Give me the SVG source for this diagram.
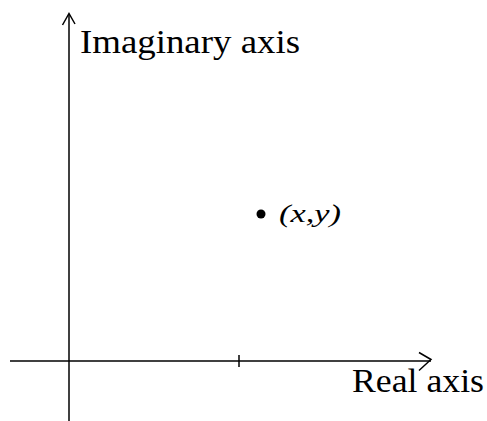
<svg xmlns="http://www.w3.org/2000/svg" width="487" height="421" viewBox="0 0 487 421">
<style>
.ax{stroke:#000;stroke-width:1.5;fill:none}
text{fill:#000}
</style>
<rect width="487" height="421" fill="#fff"/>
<g id="connectors">
<line class="ax" x1="69" y1="14" x2="69" y2="421"/>
<polyline class="ax" points="62.5,25 69,13.5 75,24"/>
<line class="ax" x1="10" y1="361" x2="431" y2="361"/>
<polyline class="ax" points="419,352.5 431,359.5 419,370.5"/>
<line class="ax" x1="239" y1="355" x2="239" y2="367"/>
</g>
<g id="imag-label"><text font-family="Liberation Serif, Times New Roman, serif" x="80" y="53" font-size="34" textLength="220" lengthAdjust="spacingAndGlyphs">Imaginary axis</text></g>
<g id="real-label"><text font-family="Liberation Serif, Times New Roman, serif" x="352" y="392" font-size="33" textLength="132" lengthAdjust="spacingAndGlyphs">Real axis</text></g>
<g id="point">
<circle cx="261" cy="214" r="4.5" fill="#000"/>
<text font-family="Liberation Serif, Times New Roman, serif" x="279" y="222" font-size="26" font-style="italic" textLength="62" lengthAdjust="spacingAndGlyphs">(x,y)</text>
</g>
</svg>
